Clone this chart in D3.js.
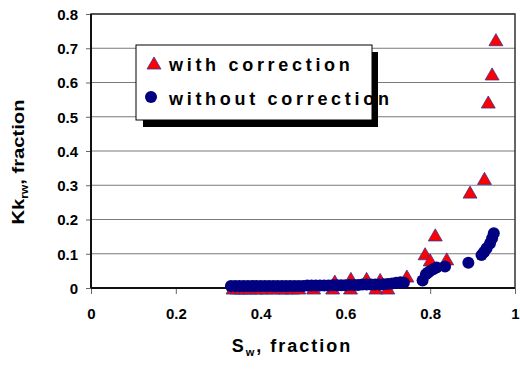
<!DOCTYPE html>
<html>
<head>
<meta charset="utf-8">
<script src="https://cdn.jsdelivr.net/npm/d3@7"></script>
<style>
  body { margin: 0; background: #fff; }
  text { font-family: "Liberation Sans", Arial, sans-serif; font-weight: bold; }
</style>
</head>
<body>
<div id="chart"></div>
<script>
// with correction (triangles)
const swCorr = [0.335, 0.345, 0.355, 0.365, 0.375, 0.39, 0.40, 0.415, 0.43, 0.45, 0.46, 0.475, 0.49,
  0.525, 0.57, 0.612, 0.672, 0.70,
  0.575, 0.613, 0.65, 0.682, 0.745, 0.788, 0.80, 0.812, 0.839, 0.894, 0.928, 0.937, 0.946, 0.955];
const kCorr = [0, 0, 0, 0, 0, 0, 0, 0, 0, 0, 0, 0, 0,
  0, 0, 0, 0, 0,
  0.02, 0.028, 0.028, 0.025, 0.035, 0.1, 0.082, 0.155, 0.085, 0.28, 0.32, 0.543, 0.625, 0.725];

// without correction (circles)
const swNoCorr = [0.33, 0.34, 0.35, 0.36, 0.37, 0.38, 0.39, 0.40, 0.41, 0.42, 0.43, 0.44, 0.45, 0.46,
  0.47, 0.48, 0.49, 0.50, 0.51, 0.52, 0.53, 0.54, 0.55, 0.56, 0.57, 0.58, 0.59, 0.60, 0.61, 0.62,
  0.63, 0.64, 0.65, 0.66, 0.67, 0.68, 0.69, 0.70, 0.71, 0.72, 0.73,
  0.738, 0.782, 0.79, 0.795, 0.80, 0.807, 0.815, 0.835, 0.89, 0.921, 0.927, 0.933, 0.941, 0.946, 0.95];
const kNoCorr = [0.006, 0.006, 0.006, 0.006, 0.006, 0.006, 0.006, 0.006, 0.006, 0.006, 0.006, 0.006, 0.006, 0.006,
  0.006, 0.006, 0.006, 0.006, 0.007, 0.007, 0.007, 0.007, 0.007, 0.007, 0.008, 0.008, 0.008, 0.008, 0.009, 0.009,
  0.009, 0.01, 0.01, 0.01, 0.01, 0.01, 0.011, 0.012, 0.013, 0.015, 0.017,
  0.015, 0.022, 0.04, 0.045, 0.05, 0.055, 0.06, 0.063, 0.074, 0.096, 0.105, 0.116, 0.13, 0.145, 0.16];

const xTicks = [0, 0.2, 0.4, 0.6, 0.8, 1];
const yTicks = [0, 0.1, 0.2, 0.3, 0.4, 0.5, 0.6, 0.7, 0.8];
const seriesNames = ['with correction', 'without correction'];

const W = 520, H = 373;
const margin = { top: 14, right: 5, bottom: 85, left: 91 };
const width = W - margin.left - margin.right;
const height = H - margin.top - margin.bottom;

const svg = d3.select('#chart').append('svg')
  .attr('width', W)
  .attr('height', H);

const g = svg.append('g')
  .attr('transform', `translate(${margin.left},${margin.top})`);

const x = d3.scaleLinear().domain([0, 1]).range([0, width]);
const y = d3.scaleLinear().domain([0, 0.8]).range([height, 0]);

// gridlines
g.selectAll('.grid')
  .data(yTicks.slice(1))
  .enter().append('line')
  .attr('x1', 0).attr('x2', width)
  .attr('y1', d => y(d)).attr('y2', d => y(d))
  .attr('stroke', '#7a7a7a')
  .attr('stroke-width', 1);

// frame
g.append('rect')
  .attr('x', 0).attr('y', 0)
  .attr('width', width).attr('height', height)
  .attr('fill', 'none')
  .attr('stroke', '#333')
  .attr('stroke-width', 1.5);

// axes
const yAxis = g.append('g')
  .call(d3.axisLeft(y).tickValues(yTicks).tickSize(5).tickPadding(8).tickFormat(d3.format('')));
const xAxis = g.append('g')
  .attr('transform', `translate(0,${height})`)
  .call(d3.axisBottom(x).tickValues(xTicks).tickSize(6).tickPadding(14).tickFormat(d3.format('')));

[xAxis, yAxis].forEach(a => {
  a.select('.domain').remove();
  a.selectAll('.tick line').attr('stroke', '#666');
  a.selectAll('.tick text')
    .attr('fill', '#000')
    .style('font-size', '15px')
    .style('font-family', '"Liberation Sans", Arial, sans-serif')
    .style('font-weight', 'bold');
});
yAxis.selectAll('.tick text').attr('dy', '0.36em');

g.append('line')
  .attr('x1', 0).attr('x2', 0).attr('y1', 0).attr('y2', height)
  .attr('stroke', '#111').attr('stroke-width', 2);
g.append('line')
  .attr('x1', 0).attr('x2', width).attr('y1', height).attr('y2', height)
  .attr('stroke', '#111').attr('stroke-width', 2);

// markers (triangle centred on its bounding box, like the spreadsheet marker)
const tri = d3.symbol().type(d3.symbolTriangle).size(84);
const triShift = 2;

g.selectAll('.tri')
  .data(swCorr.map((s, i) => [s, kCorr[i]]))
  .enter().append('path')
  .attr('d', tri)
  .attr('transform', d => `translate(${x(d[0])},${y(d[1]) + triShift})`)
  .attr('fill', '#ff0000')
  .attr('stroke', '#33339a')
  .attr('stroke-width', 0.8);

g.selectAll('.dot')
  .data(swNoCorr.map((s, i) => [s, kNoCorr[i]]))
  .enter().append('circle')
  .attr('cx', d => x(d[0]))
  .attr('cy', d => y(d[1]))
  .attr('r', 6)
  .attr('fill', '#000080');

// axis titles
const xt = svg.append('text')
  .attr('x', 292).attr('y', 352)
  .attr('text-anchor', 'middle')
  .style('font-size', '18px')
  .style('letter-spacing', '2px');
xt.append('tspan').text('S');
xt.append('tspan').attr('dy', 4).style('font-size', '11px').text('w');
xt.append('tspan').attr('dy', -4).text(', fraction');

const yt = svg.append('text')
  .attr('transform', 'translate(24,162) rotate(-90)')
  .attr('text-anchor', 'middle')
  .attr('textLength', 125)
  .attr('lengthAdjust', 'spacingAndGlyphs')
  .style('font-size', '17px');
yt.append('tspan').text('Kk');
yt.append('tspan').attr('dy', 4).style('font-size', '10px').text('rw');
yt.append('tspan').attr('dy', -4).text(', fraction');

// legend
const lg = svg.append('g');
lg.append('rect')
  .attr('x', 136).attr('y', 45)
  .attr('width', 236).attr('height', 75)
  .attr('fill', '#fff')
  .attr('stroke', '#000')
  .attr('stroke-width', 1);

lg.append('path')
  .attr('d', tri)
  .attr('transform', 'translate(154,65)')
  .attr('fill', '#ff0000')
  .attr('stroke', '#33339a')
  .attr('stroke-width', 0.8);
lg.append('circle')
  .attr('cx', 151).attr('cy', 97).attr('r', 6)
  .attr('fill', '#000080');

lg.selectAll('.ltext')
  .data(seriesNames)
  .enter().append('text')
  .attr('x', 169)
  .attr('y', (d, i) => 71 + i * 34)
  .style('font-size', '18px')
  .style('letter-spacing', '3.7px')
  .attr('fill', '#000')
  .text(d => d);

// shadow
lg.append('rect')
  .attr('x', 372).attr('y', 52)
  .attr('width', 6).attr('height', 75)
  .attr('fill', '#000');
lg.append('rect')
  .attr('x', 143).attr('y', 120)
  .attr('width', 235).attr('height', 7)
  .attr('fill', '#000');
</script>
</body>
</html>
